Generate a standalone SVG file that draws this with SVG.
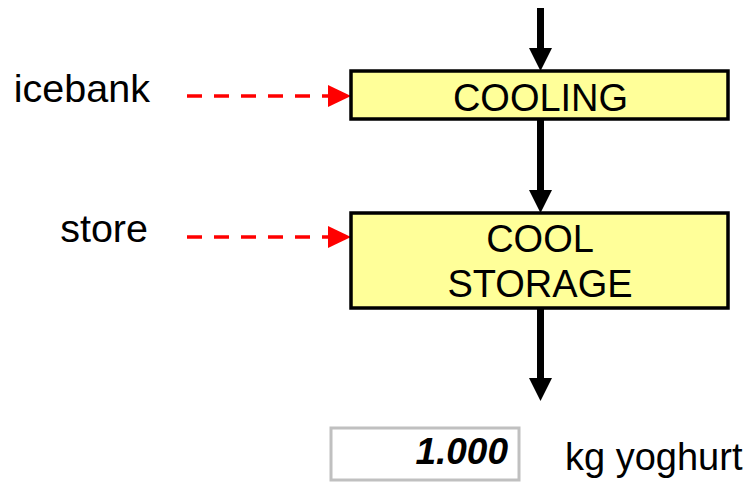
<svg xmlns="http://www.w3.org/2000/svg" width="756" height="487" viewBox="0 0 756 487">
<style>
.proc{fill:#FFFF99;stroke:#000;stroke-width:3.5}
.t{font-family:"Liberation Sans",Arial,sans-serif;font-size:38px;fill:#000}
.lbl{font-family:"Liberation Sans",Arial,sans-serif;font-size:39.5px;fill:#000}
.flow{stroke:#000;stroke-width:7;fill:none}
.util{stroke:#FF0000;stroke-width:3.5;stroke-dasharray:15,12;fill:none}
</style>
<rect width="756" height="487" fill="#fff"/>
<g id="connectors">
<line class="flow" x1="540.5" y1="8" x2="540.5" y2="50"/>
<polygon points="529,48 552,48 540.5,71" fill="#000"/>
<line class="flow" x1="540.5" y1="119" x2="540.5" y2="192"/>
<polygon points="529,190 552,190 540.5,213" fill="#000"/>
<line class="flow" x1="540.5" y1="308" x2="540.5" y2="380"/>
<polygon points="529,378 552,378 540.5,401" fill="#000"/>
<line class="util" x1="187" y1="96" x2="330" y2="96"/>
<polygon points="328,85 328,107 351,96" fill="#FF0000"/>
<line class="util" x1="187" y1="237" x2="330" y2="237"/>
<polygon points="328,226 328,248 351,237" fill="#FF0000"/>
</g>
<g id="cooling">
<rect class="proc" x="351" y="71" width="377" height="48"/>
<text class="t" x="540.5" y="111" text-anchor="middle">COOLING</text>
</g>
<g id="cool-storage">
<rect class="proc" x="351" y="213" width="377" height="95"/>
<text class="t" x="540" y="252" text-anchor="middle">COOL</text>
<text class="t" x="540" y="297" text-anchor="middle">STORAGE</text>
</g>
<g id="icebank">
<text class="lbl" x="150" y="102" text-anchor="end">icebank</text>
</g>
<g id="store">
<text class="lbl" x="148" y="242" text-anchor="end">store</text>
</g>
<g id="output">
<rect x="331" y="428" width="188" height="52" fill="#fff" stroke="#C0C0C0" stroke-width="3"/>
<text x="508" y="464" text-anchor="end" font-family="'Liberation Sans',Arial,sans-serif" font-size="37" font-weight="bold" font-style="italic" fill="#000">1.000</text>
<text class="t" x="565" y="470" font-size="38.5">kg yoghurt</text>
</g>
</svg>
